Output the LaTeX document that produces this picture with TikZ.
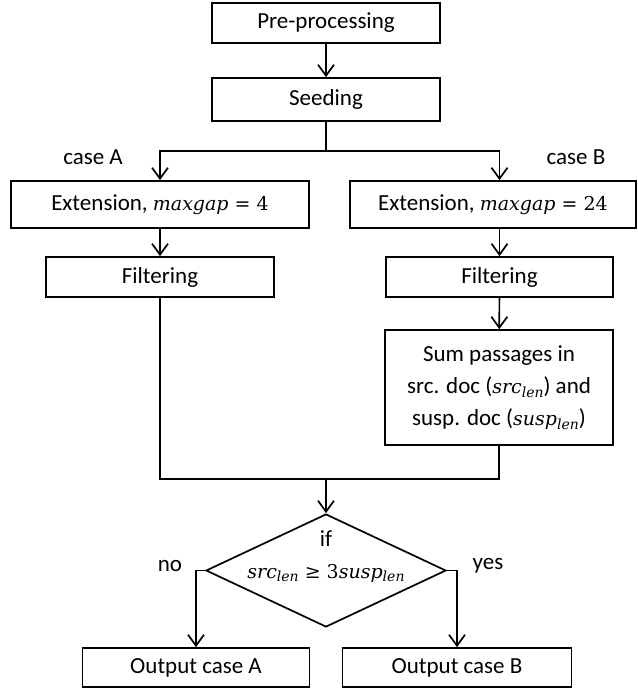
\documentclass[tikz,border=0pt]{standalone}
\usepackage{fontspec}
\setmainfont{Carlito}
\newfontfamily\mfont{DejaVu Serif}
\newcommand{\mv}[1]{{\mfont\fontsize{19}{32}\selectfont\itshape #1}}
\newcommand{\mr}[1]{{\mfont\fontsize{19}{32}\selectfont #1}}
\newcommand{\msub}[1]{\raisebox{-0.35ex}{\mfont\fontsize{14}{14}\selectfont\itshape #1}}
\usetikzlibrary{arrows.meta,shapes.geometric}
\begin{document}
\begin{tikzpicture}[x=1pt,y=-1pt,
  every node/.style={font=\fontsize{23}{32}\selectfont},
  box/.style={draw,line width=1.7pt,inner sep=0pt,align=center},
  arr/.style={line width=1.7pt,-{Straight Barb[length=11pt,width=16pt,line width=1.7pt]}},
  ln/.style={line width=1.7pt},
  lbl/.style={inner sep=0pt}]
\useasboundingbox (0,0) rectangle (637,690);
\node[box,minimum width=228pt,minimum height=40pt] (pre) at (326,23) {Pre-processing};
\node[box,minimum width=228pt,minimum height=43pt] (seed) at (326,99.5) {Seeding};
\coordinate (split) at (326,151);
\node[box,minimum width=298pt,minimum height=47pt] (extA) at (160,204.5) {Extension,\ \mv{maxgap}\mr{\ =\ 4}};
\node[box,minimum width=286pt,minimum height=47pt] (extB) at (493,204.5) {Extension,\ \mv{maxgap}\mr{\ =\ 24}};
\node[box,minimum width=228pt,minimum height=40pt] (filtA) at (160,277) {Filtering};
\node[box,minimum width=227pt,minimum height=40pt] (filtB) at (499.5,277) {Filtering};
\node[box,minimum width=228pt,minimum height=115pt] (sum) at (499,387.5) {Sum passages in\\src. doc (\mv{src}\msub{len}) and\\susp. doc (\mv{susp}\msub{len})};
\node[lbl] (caseA) at (93,157) {case A};
\node[lbl] (caseB) at (576,157) {case B};
\coordinate (mergeA) at (160,479);
\coordinate (mergeB) at (499,479);
\coordinate (merge) at (326,479);
\node[draw,diamond,line width=1.7pt,minimum width=240pt,minimum height=113pt,inner sep=0pt] (dec) at (326,570.5) {};
\node[lbl] (iftxt) at (326,539) {if};
\node[lbl] (cond) at (326,573) {\mv{src}\msub{len}\mr{\ ≥\ 3}\mv{susp}\msub{len}};
\node[lbl] (no) at (170,566) {no};
\node[lbl] (yes) at (488,566) {yes};
\coordinate (noC) at (196,570.5);
\coordinate (yesC) at (457,570.5);
\node[box,minimum width=227pt,minimum height=39pt] (outA) at (196,667.5) {Output case A};
\node[box,minimum width=229pt,minimum height=39pt] (outB) at (457,667.5) {Output case B};
\draw[arr] (pre) -- (seed);
\draw[ln] (seed.south) -- (split);
\draw[arr] (split) -| (extA.north -| filtA.north);
\draw[arr] (split) -| (filtB.north |- extB.north);
\draw[arr] (extA.south -| filtA.north) -- (filtA.north);
\draw[arr] (extB.south -| filtB.north) -- (filtB.north);
\draw[arr] (filtB) -- (sum);
\draw[ln] (filtA.south) -- (mergeA) -- (mergeB) -- (sum.south);
\draw[arr] (merge) -- (dec.north);
\draw[arr] (dec.west) -- (noC) -- (outA.north);
\draw[arr] (dec.east) -- (yesC) -- (outB.north);
\end{tikzpicture}
\end{document}
